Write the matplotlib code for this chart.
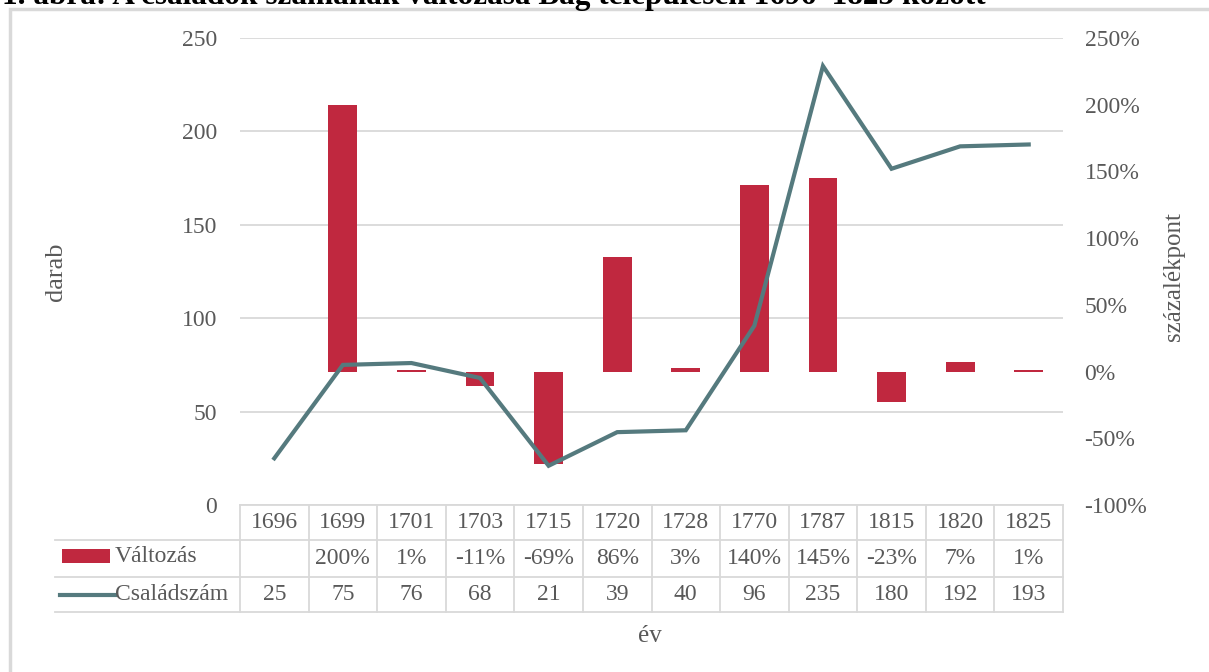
import numpy as np
import matplotlib
matplotlib.use("Agg")
import matplotlib.pyplot as plt
from matplotlib.patches import Rectangle
from matplotlib.lines import Line2D

# data
years = ["1696", "1699", "1701", "1703", "1715", "1720", "1728", "1770", "1787", "1815", "1820", "1825"]
families = [25, 75, 76, 68, 21, 39, 40, 96, 235, 180, 192, 193]
change = [None, 200, 1, -11, -69, 86, 3, 140, 145, -23, 7, 1]

bar_color = "#C0283F"
line_color = "#557A7E"
grid_color = "#D9D9D9"
text_color = "#595959"
fs = 17

plt.rcParams['font.family'] = ['Liberation Serif', 'DejaVu Serif']

W, H = 1209, 672
fig = plt.figure(figsize=(W / 100, H / 100), dpi=100)


def fx(px):
    return px / W


def fy(py):
    return 1 - py / H


# outer frame of the chart
fig.patches.append(Rectangle((fx(9.5), fy(1000)), 2, fy(9.5) - fy(1000), transform=fig.transFigure,
                             facecolor='none', edgecolor=grid_color, linewidth=2.5))

# title, cut off at the top like the reference
fig.text(fx(2), fy(4), "1. ábra: A családok számának változása Bag településen 1696–1825 között",
         fontsize=22.5, fontweight='bold', ha='left', va='baseline', color='black')

left, right, top, bottom = 240, 1063, 38, 505
ax = fig.add_axes([fx(left), fy(bottom), fx(right) - fx(left), fy(top) - fy(bottom)])
ax2 = ax.twinx()

x = np.arange(len(years))
ax.set_xlim(-0.5, len(years) - 0.5)
ax.set_ylim(0, 250)
ax2.set_ylim(-100, 250)
ax.set_yticks(np.arange(0, 251, 50))
ax2.set_yticks(np.arange(-100, 251, 50))
ax2.set_yticklabels([f"{v}%" for v in range(-100, 251, 50)])

ax.yaxis.grid(True, color=grid_color, linewidth=1.3)
ax.set_axisbelow(True)
for a in (ax, ax2):
    for s in a.spines.values():
        s.set_visible(False)
    a.tick_params(length=0, labelsize=fs, labelcolor=text_color)
ax.tick_params(axis='y', pad=16.5)
ax2.tick_params(axis='y', pad=15.5)
ax.set_xticks([])

# bars on the percent scale, drawn inside the left axes so the line stays on top
bx = [i for i, v in enumerate(change) if v is not None]
bv = [v for v in change if v is not None]
ax.bar(bx, bv, width=0.42, color=bar_color, transform=ax2.transData, zorder=2)
ax.plot(x, families, color=line_color, linewidth=3, zorder=3, solid_joinstyle='miter')

# data table below the plot
trans = ax.get_xaxis_transform()
ph = bottom - top
for yy in (505, 540, 577, 612):
    ax.add_line(Line2D([-0.5, 11.5], [-(yy - bottom) / ph] * 2, transform=trans,
                       color=grid_color, lw=1.3, clip_on=False))
for i in range(len(years) + 1):
    ax.add_line(Line2D([i - 0.5, i - 0.5], [0, -(612 - bottom) / ph], transform=trans,
                       color=grid_color, lw=1.3, clip_on=False))
# legend column lines
for yy in (540, 577, 612):
    fig.add_artist(Line2D([fx(55), fx(left)], [fy(yy), fy(yy)], color=grid_color, lw=1.3))

row_y = [-(522 - bottom) / ph, -(558 - bottom) / ph, -(595 - bottom) / ph]
for i in range(len(years)):
    ax.text(x[i], row_y[0], years[i], transform=trans, ha='center', va='center',
            fontsize=fs, color=text_color)
    if change[i] is not None:
        ax.text(x[i], row_y[1], f"{change[i]}%", transform=trans, ha='center', va='center',
                fontsize=fs, color=text_color)
    ax.text(x[i], row_y[2], str(families[i]), transform=trans, ha='center', va='center',
            fontsize=fs, color=text_color)

# legend keys
fig.patches.append(Rectangle((fx(62), fy(563)), fx(110) - fx(62), fy(549) - fy(563),
                             transform=fig.transFigure, facecolor=bar_color, edgecolor='none'))
fig.add_artist(Line2D([fx(60), fx(115)], [fy(595), fy(595)], color=line_color, lw=3))
fig.text(fx(115), fy(557), "Változás", ha='left', va='center', fontsize=fs, color=text_color)
fig.text(fx(115), fy(595), "Családszám", ha='left', va='center', fontsize=fs, color=text_color)

# axis titles
fig.text(fx(650), fy(636), "év", ha='center', va='center', fontsize=18, color=text_color)
fig.text(fx(56), fy(272), "darab", ha='center', va='center', rotation=90, fontsize=19, color=text_color)
fig.text(fx(1174), fy(277), "százalékpont", ha='center', va='center', rotation=90, fontsize=18,
         color=text_color)

fig.savefig("out.png", dpi=100)
